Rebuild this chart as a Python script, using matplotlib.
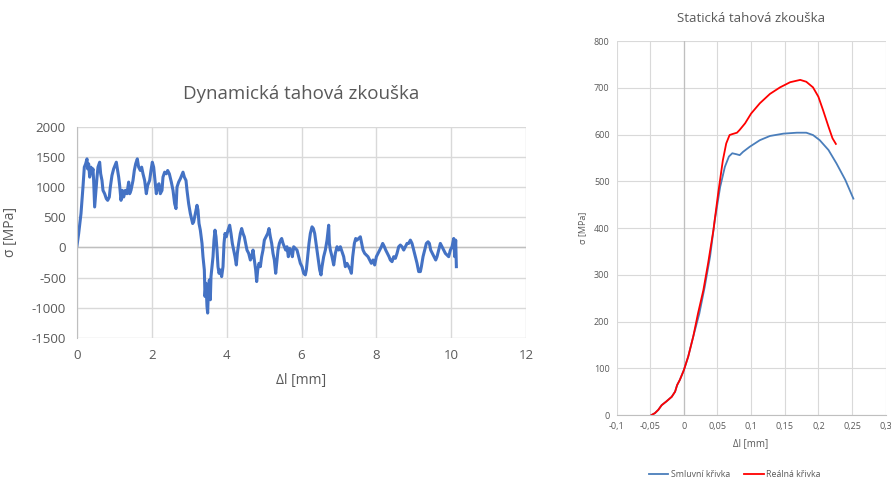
import matplotlib.pyplot as plt

plt.rcParams['font.family'] = ['Open Sans', 'DejaVu Sans']
plt.rcParams['axes.unicode_minus'] = False

# Dynamic test
dyn_dl = [0.0, 0.045, 0.107, 0.16, 0.196, 0.232, 0.267, 0.285, 0.312, 0.339, 0.374, 0.401, 0.428,
          0.445, 0.472, 0.499, 0.535, 0.561, 0.606, 0.633, 0.668, 0.695, 0.739, 0.784, 0.82, 0.864,
          0.891, 0.935, 0.98, 1.051, 1.087, 1.114, 1.14, 1.176, 1.212, 1.247, 1.292, 1.336, 1.381,
          1.408, 1.443, 1.497, 1.532, 1.568, 1.612, 1.648, 1.693, 1.728, 1.764, 1.808, 1.853, 1.889,
          1.942, 1.978, 2.013, 2.049, 2.076, 2.12, 2.156, 2.192, 2.227, 2.272, 2.298, 2.343, 2.388,
          2.423, 2.468, 2.521, 2.566, 2.61, 2.646, 2.673, 2.717, 2.762, 2.833, 2.869, 2.913, 2.94,
          2.984, 3.029, 3.091, 3.118, 3.163, 3.207, 3.234, 3.261, 3.296, 3.341, 3.367, 3.403, 3.421,
          3.448, 3.474, 3.492, 3.51, 3.537, 3.563, 3.581, 3.608, 3.635, 3.661, 3.688, 3.715, 3.742,
          3.768, 3.795, 3.831, 3.866, 3.902, 3.929, 3.955, 3.991, 4.036, 4.08, 4.116, 4.151, 4.187,
          4.223, 4.258, 4.285, 4.321, 4.365, 4.401, 4.437, 4.472, 4.508, 4.543, 4.588, 4.633, 4.668,
          4.704, 4.739, 4.775, 4.802, 4.829, 4.864, 4.9, 4.935, 4.971, 5.007, 5.051, 5.096, 5.131,
          5.167, 5.203, 5.238, 5.274, 5.31, 5.345, 5.372, 5.408, 5.443, 5.47, 5.506, 5.541, 5.577,
          5.612, 5.648, 5.684, 5.719, 5.755, 5.791, 5.835, 5.88, 5.924, 5.969, 6.013, 6.058, 6.102,
          6.129, 6.165, 6.2, 6.236, 6.281, 6.316, 6.352, 6.388, 6.423, 6.459, 6.486, 6.521, 6.548,
          6.592, 6.637, 6.682, 6.726, 6.744, 6.771, 6.815, 6.86, 6.904, 6.949, 6.993, 7.038, 7.082,
          7.127, 7.171, 7.216, 7.261, 7.305, 7.332, 7.368, 7.412, 7.448, 7.483, 7.528, 7.572, 7.608,
          7.644, 7.688, 7.733, 7.777, 7.822, 7.866, 7.911, 7.955, 8.0, 8.045, 8.089, 8.134, 8.169,
          8.214, 8.25, 8.294, 8.339, 8.374, 8.419, 8.463, 8.508, 8.552, 8.597, 8.641, 8.686, 8.731,
          8.775, 8.82, 8.864, 8.909, 8.953, 8.998, 9.042, 9.087, 9.131, 9.176, 9.203, 9.247, 9.292,
          9.336, 9.381, 9.417, 9.452, 9.497, 9.541, 9.586, 9.621, 9.666, 9.71, 9.755, 9.8, 9.844,
          9.889, 9.933, 9.978, 10.022, 10.067, 10.094, 10.12, 10.138]
dyn_sigma = [30, 230, 560, 1000, 1330, 1385, 1467, 1302, 1385, 1165, 1330, 1220, 1302,
             1110, 670, 890, 1165, 1330, 1412, 1220, 1110, 945, 890, 808, 780, 835,
             1000, 1193, 1302, 1412, 1275, 1165, 1028, 780, 945, 835, 945, 890, 1083,
             890, 945, 1110, 1275, 1385, 1467, 1330, 1275, 1330, 1220, 1110, 890, 1028,
             1110, 1275, 1412, 1330, 1165, 890, 1028, 1055, 890, 945, 1165, 1247, 1220,
             1275, 1220, 1083, 945, 725, 643, 1000, 1083, 1138, 1247, 1165, 1110, 945,
             725, 561, 396, 423, 561, 698, 616, 396, 286, 66, -154, -374, -813,
             -593, -978, -1088, -758, -538, -868, -484, -319, -154, 121, 286, 176, -44,
             -319, -429, -374, -484, -319, 66, 231, 176, 286, 368, 231, 66, -44,
             -154, -291, -99, 66, 231, 313, 231, 176, 66, -44, -99, -209, -154,
             -44, -209, -374, -566, -374, -264, -319, -154, -44, 121, 176, 231, 313,
             176, 66, -99, -209, -429, -209, -44, 66, 121, 148, 66, 11, -44,
             11, -154, -16, -44, -154, 11, -16, -44, -154, -264, -319, -429, -456,
             -374, -154, 66, 231, 341, 313, 231, 66, -99, -264, -374, -456, -319,
             -154, -44, 121, 368, 66, -44, -154, -291, -99, 11, -44, 11, -71,
             -154, -319, -264, -319, -374, -429, -154, 66, 148, 121, 148, 176, 66,
             -44, -99, -126, -154, -209, -264, -209, -291, -154, -99, -44, 11, 66,
             11, -44, -99, -154, -209, -236, -154, -181, -99, 11, 39, 11, -44,
             11, 66, 66, 121, 66, -44, -154, -264, -401, -401, -319, -154, -44,
             66, 93, 66, -44, -99, -154, -209, -154, -44, 66, 11, -44, -99,
             -126, -154, -44, 11, 148, -154, 121, -319]

# Static test
real_dl = [-0.048, -0.043, -0.038, -0.033, -0.026, -0.018, -0.013, -0.01, -0.006, 0.0, 0.0065,
           0.014, 0.021, 0.029, 0.036, 0.044, 0.051, 0.058, 0.063, 0.068, 0.072, 0.079, 0.083,
           0.091, 0.1, 0.113, 0.128, 0.143, 0.158, 0.173, 0.182, 0.192, 0.2, 0.207, 0.215,
           0.221, 0.226]
real_sigma = [0, 4, 11, 21, 29, 39, 50, 64, 75, 96, 125, 168, 217, 267, 324, 396, 474, 545,
              581, 599, 601, 604, 610, 624, 645, 667, 687, 701, 712, 717, 713, 701, 681, 652,
              617, 592, 580]
eng_dl = [-0.048, -0.043, -0.038, -0.033, -0.026, -0.018, -0.013, -0.01, -0.006, 0.0, 0.0065,
          0.014, 0.023, 0.031, 0.039, 0.046, 0.054, 0.061, 0.067, 0.072, 0.078, 0.083, 0.088,
          0.098, 0.113, 0.128, 0.148, 0.168, 0.182, 0.192, 0.202, 0.215, 0.227, 0.24, 0.252]
eng_sigma = [0, 4, 11, 21, 29, 39, 50, 64, 75, 96, 125, 168, 217, 274, 339, 417, 488, 531,
             553, 560, 558, 556, 563, 574, 588, 597, 602, 604, 604, 599, 588, 567, 538, 503, 463]

grey = '#595959'
grid = '#d9d9d9'

fig = plt.figure(figsize=(8.91, 4.8), dpi=100)

# left chart
ax1 = fig.add_axes([0.0864, 0.296, 0.504, 0.44])
ax1.plot(dyn_dl, dyn_sigma, color='#4472c4', lw=2.2)
ax1.set_xlim(0, 12)
ax1.set_ylim(-1500, 2000)
ax1.set_xticks(range(0, 13, 2))
ax1.set_yticks(range(-1500, 2001, 500))
ax1.grid(True, color=grid, lw=1)
ax1.axhline(0, color='#bfbfbf', lw=1, zorder=1)
for s in ax1.spines.values():
    s.set_visible(False)
ax1.spines['left'].set_visible(True)
ax1.spines['left'].set_color('#bfbfbf')
ax1.tick_params(length=0, labelsize=9.5, labelcolor=grey, pad=8)
ax1.set_xlabel('Δl [mm]', fontsize=10, color=grey, labelpad=8)
ax1.set_ylabel('σ [MPa]', fontsize=10, color=grey, labelpad=6)
ax1.yaxis.set_label_coords(-0.131, 0.5)
ax1.set_title('Dynamická tahová zkouška', fontsize=13.5, color=grey, pad=20)
ax1.set_axisbelow(True)

# right chart
ax2 = fig.add_axes([0.692, 0.1354, 0.302, 0.779])
ax2.plot(eng_dl, eng_sigma, color='#4a7ebb', lw=1.3, label='Smluvní křivka')
ax2.plot(real_dl, real_sigma, color='#ff0000', lw=1.3, label='Reálná křivka')
ax2.set_xlim(-0.1, 0.3)
ax2.set_ylim(0, 800)
xt = [-0.1, -0.05, 0, 0.05, 0.1, 0.15, 0.2, 0.25, 0.3]
ax2.set_xticks(xt)
ax2.set_xticklabels([('%g' % v).replace('.', ',') for v in xt])
ax2.set_yticks(range(0, 801, 100))
ax2.grid(True, color=grid, lw=0.8)
ax2.axvline(0, color='#bfbfbf', lw=0.9, zorder=1)
for s in ax2.spines.values():
    s.set_visible(False)
ax2.spines['bottom'].set_visible(True)
ax2.spines['bottom'].set_color('#bfbfbf')
ax2.tick_params(length=0, labelsize=6.5, labelcolor=grey, pad=5)
ax2.set_xlabel('Δl [mm]', fontsize=7, color=grey, labelpad=5)
ax2.set_ylabel('σ [MPa]', fontsize=6.5, color=grey, labelpad=5)
ax2.set_title('Statická tahová zkouška', fontsize=9.5, color=grey, pad=14)
ax2.set_axisbelow(True)
ax2.legend(loc='center', bbox_to_anchor=(0.44, -0.16), ncol=2, frameon=False,
           fontsize=6.3, labelcolor=grey, handlelength=2.2, handletextpad=0.3,
           columnspacing=1.6, borderpad=0)

fig.savefig('out.png', dpi=100)
